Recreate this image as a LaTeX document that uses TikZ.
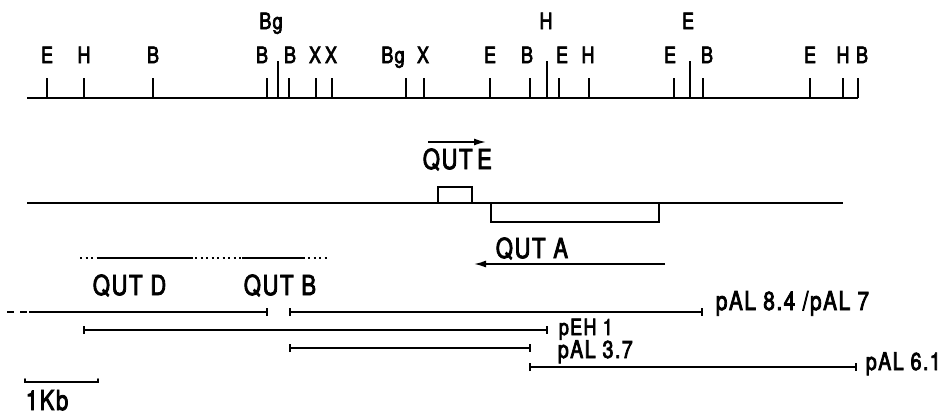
\documentclass[tikz,border=0pt]{standalone}
\usepackage{fontspec}
\setmainfont[FakeStretch=0.8, FakeBold=3, LetterSpace=6]{TeX Gyre Heros}
\usetikzlibrary{arrows.meta}

\begin{document}
\begin{tikzpicture}[x=1pt, y=-1pt, line width=1.7pt,
  sitelbl/.style={font=\fontsize{22.5}{22.5}\selectfont, inner sep=0pt, anchor=base},
  maplbl/.style={font=\fontsize{27.5}{27.5}\selectfont, inner sep=0pt, anchor=base west},
  clonelbl/.style={font=\fontsize{26}{26}\selectfont, inner sep=0pt, anchor=base west},
  clone/.style={{Bar[width=8pt,line width=1.7pt]}-{Bar[width=8pt,line width=1.7pt]}},
  dir/.style={-{Latex[length=12pt,width=7pt]}},
  dots/.style={dash pattern=on 2pt off 3.5pt},
  genebox/.style={line width=1.5pt}]
\useasboundingbox (0,0) rectangle (942,415);

% restriction map
\draw (27,98) -- (858,98);
\foreach \x/\lx/\t [count=\i] in {47/47/E, 84/84/H, 153/153/B, 267/262/B, 289/290/B,
    316/315/X, 332/331/X, 406/393/Bg, 424/423/X, 490/490/E, 530/527/B, 559/562/E,
    589/588/H, 674/670/E, 703/707/B, 810/810/E, 843/843/H, 858/862/B}{
  \draw (\x,78) -- (\x,98);
  \node[sitelbl] (site\i) at (\lx,63) {\t};
}
\foreach \x/\lx/\t [count=\i] in {278/271/Bg, 547/546/H, 690/688/E}{
  \draw (\x,61) -- (\x,98);
  \node[sitelbl] (top\i) at (\lx,29) {\t};
}

% transcript map
\draw (27,203) -- (843,203);
\draw[genebox] (438,203) |- (472,187) -- (472,203);
\draw[genebox] (491,203) |- (659,222) -- (659,203);
\coordinate (eS) at (428,142);
\coordinate (eE) at (486,142);
\draw[dir] (eS) -- (eE);
\node[maplbl] (qute) at (422,169) {QUT\,E};
\node[maplbl] (quta) at (495,258) {QUT A};
\coordinate (aS) at (665,264);
\coordinate (aE) at (474,264);
\draw[dir] (aS) -- (aE);

% QUT D / QUT B region
\draw[dots] (80,258) -- (98,258);
\draw (98,258) -- (193,258);
\draw[dots] (195,258) -- (242,258);
\draw (242,258) -- (305,258);
\draw[dots] (308,258) -- (328,258);
\node[maplbl] (qutd) at (92,295) {QUT D};
\node[maplbl] (qutb) at (243,295) {QUT B};

% clones
\draw[dash pattern=on 7pt off 6pt] (7,312) -- (27,312);
\draw[-{Bar[width=8pt,line width=1.7pt]}] (29,312) -- (268,312);
\draw[clone] (289,312) -- (703,312);
\node[clonelbl] (pal84) at (715,310) {pAL 8.4 /pAL 7};
\draw[clone] (83,330) -- (548,330);
\node[clonelbl, font=\fontsize{22.5}{22.5}\selectfont] (peh) at (558,335) {pEH 1};
\draw[clone] (289,348) -- (531,348);
\node[clonelbl, font=\fontsize{24.5}{24.5}\selectfont] (pal37) at (557,358) {pAL 3.7};
\draw[clone] (529,367) -- (857,367);
\node[clonelbl, font=\fontsize{24.5}{24.5}\selectfont] (pal61) at (865,370) {pAL 6.1};

% scale bar
\draw[line cap=round] (25,379) -- (25,382) -- (98,382) -- (98,379);
\node[maplbl] (kb) at (25,410) {1Kb};
\end{tikzpicture}
\end{document}
